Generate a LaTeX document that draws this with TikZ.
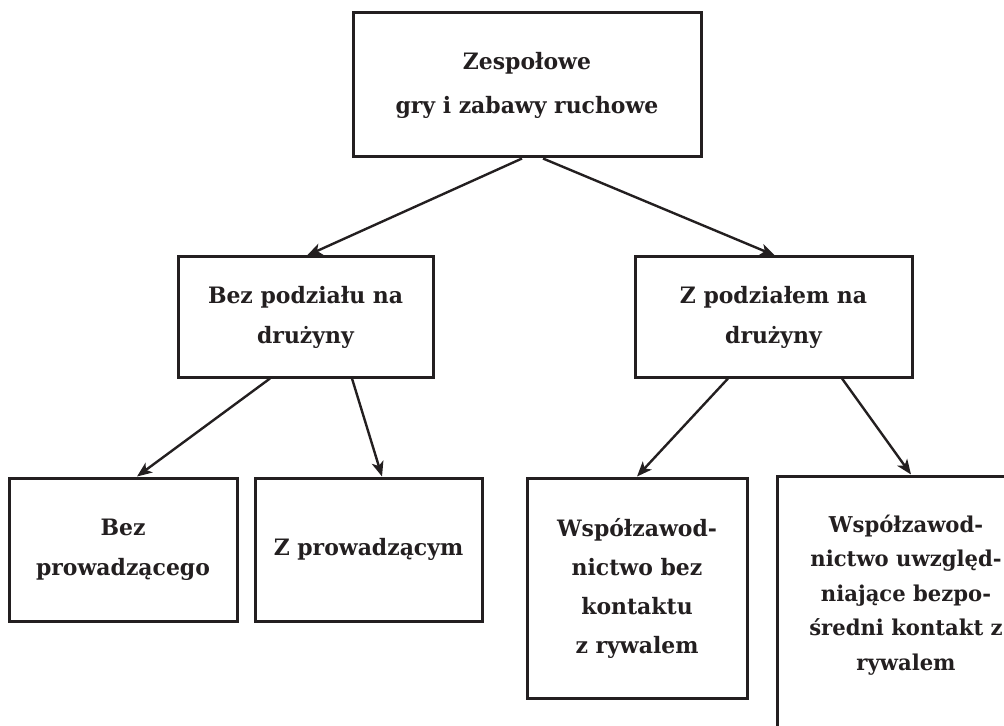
\documentclass[tikz,border=0pt]{standalone}
\usepackage{fontspec}
\setmainfont[FakeStretch=0.97]{DejaVu Serif}
\usepackage{xcolor}
\usepackage{tikz}
\usetikzlibrary{calc, arrows.meta}

\definecolor{ink}{HTML}{231F20}

\tikzset{
  blok/.style = {draw = ink, text = ink, line width = 1.5pt, align = center,
    inner sep = 0pt, font = \bfseries\fontsize{11.3}{20}\selectfont},
  strzalka/.style = {-{Stealth[length = 7.5pt, width = 6pt, inset = 2pt]},
    draw = ink, line width = 1.2pt}
}

\begin{document}
\begin{tikzpicture}[x = 0.5pt, y = -0.5pt]
  \useasboundingbox (0, 0) rectangle (1004, 726);

  % poziom 1
  \node[blok, minimum width = 174pt, minimum height = 72pt,
  font = \bfseries\fontsize{11.3}{22}\selectfont] (gry) at (527, 85)
  {Zespołowe\\gry i zabawy ruchowe};

  % poziom 2
  \node[blok, minimum width = 127.5pt, minimum height = 60pt] (bez) at (305.5, 317)
  {Bez podziału na\\drużyny};
  \node[blok, minimum width = 138.5pt, minimum height = 60pt] (z) at (773.5, 317)
  {Z podziałem na\\drużyny};

  % poziom 3
  \node[blok, minimum width = 114pt, minimum height = 71.5pt] (bezprow) at (123, 549.5)
  {Bez\\prowadzącego};
  \node[blok, minimum width = 113.5pt, minimum height = 71.5pt] (zprow) at (368.5, 549.5)
  {Z prowadzącym};
  \node[blok, minimum width = 110pt, minimum height = 110pt,
  font = \bfseries\fontsize{11.3}{19.5}\selectfont] (wspbez) at (637, 588)
  {Współzawod-\\nictwo bez\\kontaktu\\z rywalem};
  \node[blok, minimum width = 129pt, minimum height = 132pt,
  font = \bfseries\fontsize{10.9}{17.25}\selectfont] (wspkon) at (906, 608)
  {Współzawod-\\nictwo uwzględ-\\niające bezpo-\\średni kontakt z\\rywalem\\[-2pt]\mbox{}};

  \draw[strzalka] ($(gry.south) + (-5, 0)$) -- ($(bez.north) + (1.5, 0)$);
  \draw[strzalka] ($(gry.south) + (16, 0)$) -- ($(z.north) + (1.5, 0)$);
  \draw[strzalka] ($(bez.south) + (-35.5, 0)$) -- ($(bezprow.north) + (14, 0)$);
  \draw[strzalka] ($(bez.south) + (46.5, 0)$) -- ($(zprow.north) + (13.5, 0)$);
  \draw[strzalka] ($(z.south) + (-45.5, 0)$) -- (wspbez.north);
  \draw[strzalka] ($(z.south) + (68.5, 0)$) -- ($(wspkon.north) + (5, 0)$);
\end{tikzpicture}
\end{document}
